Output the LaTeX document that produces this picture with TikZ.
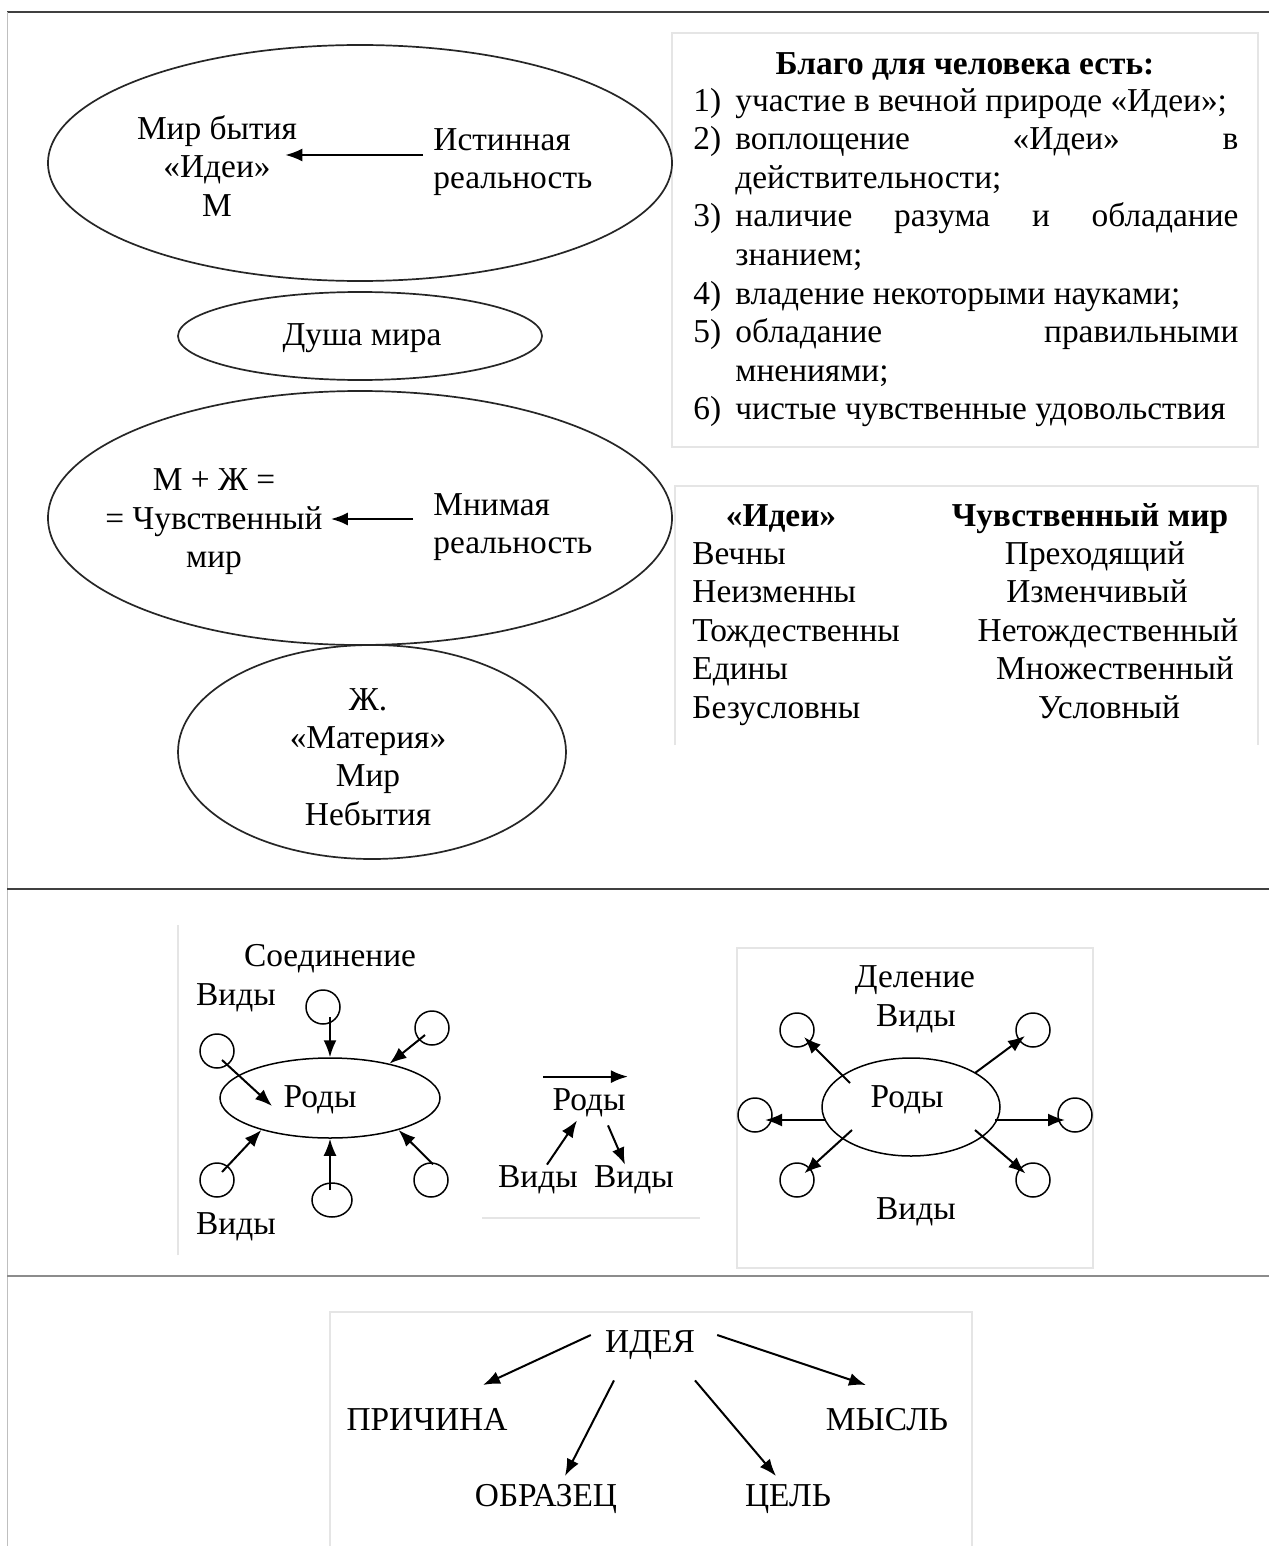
\documentclass[tikz,border=0pt]{standalone}
\usepackage{fontspec}
\setmainfont{Liberation Serif}
\usetikzlibrary{arrows.meta,shapes.geometric}

\tikzset{
  txt/.style={inner sep=0pt,align=center,font=\fontsize{16.7}{19.2}\selectfont},
  lbl/.style={txt,text height=12pt,text depth=3pt},
  boldlbl/.style={lbl,font=\fontsize{16.7}{19.2}\selectfont\bfseries},
  bigoval/.style={line width=0.85pt,black!85},
  arr/.style={line width=1pt,-{Latex[length=8.5pt,width=6.5pt]}},
  vid/.style={draw,circle,line width=0.75pt,minimum size=17pt,inner sep=0pt},
  rodoval/.style={draw,ellipse,line width=0.75pt,inner sep=0pt},
  faint/.style={draw=black!10,line width=0.7pt},
}

\begin{document}
\begin{tikzpicture}[x=0.5pt,y=-0.5pt]
\useasboundingbox (0,0) rectangle (1269,1546);
\fill[white] (0,0) rectangle (1269,1546);
% Frame
\draw[line width=1.1pt,black!75] (7,12) -- (1269,12);
\draw[line width=0.4pt,black!25] (7,12) -- (7,1546);
\draw[line width=1.1pt,black!75] (7,889) -- (1269,889);
\draw[line width=1.3pt,black!45] (7,1276) -- (1269,1276);
% Text boxes
\draw[faint] (672,33) rectangle (1258,447);
\draw[faint] (675,745) -- (675,486) -- (1258,486) -- (1258,745);
\draw[faint] (178,1255) -- (178,925);
\draw[faint] (482,1218) -- (700,1218);
\draw[faint] (737,948) rectangle (1093,1268);
\draw[faint] (330,1546) -- (330,1312) -- (972,1312) -- (972,1546);

% Worlds
\draw[bigoval] (360,163) ellipse (312 and 118);
\draw[bigoval] (360,336) ellipse (182 and 44);
\draw[bigoval] (360,518) ellipse (312 and 127);
\draw[bigoval] (372,752) ellipse (194 and 107);
\node[txt] (mir) at (217,166) {Мир бытия\\«Идеи»\\М};
\node[txt,anchor=west,align=left] (ist) at (433,162) {Истинная\\реальность};
\draw[arr] ([shift={(-10,-7)}]ist.west) -- ([shift={(-12,-11)}]mir.east);
\node[lbl] (dusha) at (362,336) {Душа мира};
\node[txt] (chm) at (214,522) {М + Ж =\\= Чувственный\\мир};
\node[txt,anchor=west,align=left] (mnim) at (433,527) {Мнимая\\реальность};
\draw[arr] ([shift={(-20,-8)}]mnim.west) -- ([shift={(8,-3)}]chm.east);
\node[txt] (mat) at (368,757) {Ж.\\«Материя»\\Мир\\Небытия};

% Blago
\node[boldlbl] (blago) at (965,66) {Благо для человека есть:};
\foreach \n/\y in {1/103,2/141,3/218,4/295,5/333,6/410}
  \node[lbl,anchor=west] (num\n) at (693,\y) {\n)};
\node[lbl,anchor=west] (it1) at (735,103) {участие в вечной природе «Идеи»;};
\node[lbl,anchor=west] (it2) at (735,141) {\makebox[251.5pt][s]{воплощение «Идеи» в}};
\node[lbl,anchor=west] (it2b) at (735,180) {действительности;};
\node[lbl,anchor=west] (it3) at (735,218) {\makebox[251.5pt][s]{наличие разума и обладание}};
\node[lbl,anchor=west] (it3b) at (735,256) {знанием;};
\node[lbl,anchor=west] (it4) at (735,295) {владение некоторыми науками;};
\node[lbl,anchor=west] (it5) at (735,333) {\makebox[251.5pt][s]{обладание правильными}};
\node[lbl,anchor=west] (it5b) at (735,372) {мнениями;};
\node[lbl,anchor=west] (it6) at (735,410) {чистые чувственные удовольствия};

% Ideas vs sensible world
\node[boldlbl] (hid) at (781,517) {«Идеи»};
\node[boldlbl] (hch) at (1090,517) {Чувственный мир};
\foreach \t/\y [count=\i] in {Вечны/555,Неизменны/593,Тождественны/632,Едины/670,Безусловны/709}
  \node[lbl,anchor=west] (ide\i) at (692,\y) {\t};
\foreach \t/\x/\y [count=\i] in {Преходящий/1095/555,Изменчивый/1097/593,Нетождественный/1108/632,Множественный/1115/670,Условный/1109/709}
  \node[lbl] (chv\i) at (\x,\y) {\t};

% Joining
\node[lbl] (soed) at (330,957) {Соединение};
\node[lbl] (vidA) at (236,996) {Виды};
\node[lbl] (vidB) at (236,1225) {Виды};
\node[rodoval,minimum width=110pt,minimum height=40pt] (rod1) at (330,1098) {};
\node[lbl] (rod1t) at (320,1098) {Роды};
\node[vid] (s1) at (323,1007) {};
\node[vid] (s2) at (432,1028) {};
\node[vid] (s3) at (217,1051) {};
\node[vid] (s4) at (217,1180) {};
\node[vid,ellipse,minimum width=20pt,minimum height=17pt] (s5) at (332,1200) {};
\node[vid] (s6) at (431,1180) {};
\draw[arr,shorten <=5pt] (s1.center -| rod1.north) -- (rod1.north);
\draw[arr] ([shift={(-7,7)}]s2.center) -- (rod1.30);
\draw[arr] ([shift={(5,9)}]s3.center) -- ([shift={(-58,8)}]rod1.center);
\draw[arr] ([shift={(5,-8)}]s4.center) -- (rod1.205);
\draw[arr,shorten <=5pt] (s5.center -| rod1.south) -- (rod1.south);
\draw[arr] ([shift={(2,2)}]s6.north) -- (rod1.335);

% Genus and species
\node[lbl] (rod2) at (589,1101) {Роды};
\node[lbl] (vid1) at (538,1178) {Виды};
\node[lbl] (vid2) at (634,1178) {Виды};
\draw[arr] ([shift={(-9,-9)}]rod2.north west) -- ([shift={(2,-9)}]rod2.north east);
\draw[arr] ([shift={(9,2)}]vid1.north) -- ([shift={(-12,4)}]rod2.south);
\draw[arr] ([shift={(19,9)}]rod2.south) -- ([shift={(-9,2)}]vid2.north);

% Division
\node[lbl] (del) at (915,978) {Деление};
\node[lbl] (vidC) at (916,1017) {Виды};
\node[lbl] (vidD) at (916,1210) {Виды};
\node[rodoval,minimum width=89pt,minimum height=49pt] (rd) at (911,1107) {};
\node[lbl] (rdt) at (907,1098) {Роды};
\node[vid] (d1) at (797,1030) {};
\node[vid] (d2) at (755,1115) {};
\node[vid] (d3) at (797,1180) {};
\node[vid] (d4) at (1033,1030) {};
\node[vid] (d5) at (1075,1115) {};
\node[vid] (d6) at (1033,1180) {};
\draw[arr,shorten >=5pt] ([shift={(-61,-24)}]rd.center) -- (d1.center);
\draw[arr,shorten >=5pt] ([shift={(-85,13)}]rd.center) -- (d2.center |- 0,1120);
\draw[arr,shorten >=5pt] ([shift={(-59,23)}]rd.center) -- (d3.center);
\draw[arr,shorten >=5pt] ([shift={(64,-34)}]rd.center) -- (d4.center);
\draw[arr,shorten >=5pt] ([shift={(84,13)}]rd.center) -- (d5.center |- 0,1120);
\draw[arr,shorten >=5pt] ([shift={(64,23)}]rd.center) -- (d6.center);

% Idea
\node[lbl] (idea) at (650,1343) {ИДЕЯ};
\node[lbl] (prich) at (427,1421) {ПРИЧИНА};
\node[lbl] (mysl) at (887,1421) {МЫСЛЬ};
\node[lbl] (obr) at (546,1497) {ОБРАЗЕЦ};
\node[lbl] (cel) at (788,1497) {ЦЕЛЬ};
\draw[arr] ([shift={(-14,-8)}]idea.west) -- ([shift={(56,-36)}]prich.center);
\draw[arr] ([shift={(22,-8)}]idea.east) -- ([shift={(-21,-36)}]mysl.center);
\draw[arr] ([shift={(-36,22)}]idea.south) -- ([shift={(19,-21)}]obr.center);
\draw[arr] ([shift={(45,22)}]idea.south) -- ([shift={(-12,-21)}]cel.center);
\end{tikzpicture}
\end{document}
